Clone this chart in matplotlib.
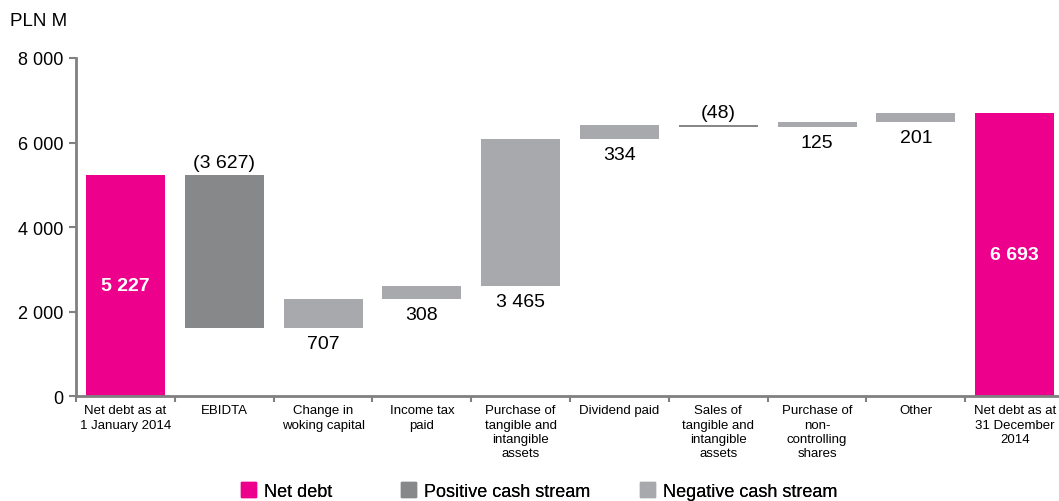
import numpy as np
import matplotlib.pyplot as plt
from matplotlib.patches import Patch

plt.rcParams['font.family'] = ['Liberation Sans', 'DejaVu Sans']

# Net debt bridge, PLN M
categories = ["Net debt as at\n1 January 2014", "EBIDTA", "Change in\nwoking capital",
              "Income tax\npaid", "Purchase of\ntangible and\nintangible\nassets",
              "Dividend paid", "Sales of\ntangible and\nintangible\nassets",
              "Purchase of\nnon-\ncontrolling\nshares", "Other",
              "Net debt as at\n31 December\n2014"]
opening = 5227
closing = 6693
changes = [-3627, 707, 308, 3465, 334, -48, 125, 201]

magenta = '#EC008C'
dark_grey = '#87888A'
light_grey = '#A7A9AC'
axis_grey = '#808080'

def fmt(v):
    s = f"{abs(v):,}".replace(",", " ")
    return f"({s})" if v < 0 else s

fig = plt.figure(figsize=(10.59, 5.02), dpi=100)
ax = fig.add_axes([0.0718, 0.209, 0.933, 0.6735])

x = np.arange(len(categories))
w = 0.8

# opening and closing balances
ax.bar(x[0], opening, width=w, color=magenta)
ax.bar(x[-1], closing, width=w, color=magenta)
ax.text(x[0], opening / 2, fmt(opening), ha='center', va='center',
        color='white', fontsize=14, fontweight='bold')
ax.text(x[-1], closing / 2, fmt(closing), ha='center', va='center',
        color='white', fontsize=14, fontweight='bold')

# floating steps
level = opening
for i, ch in enumerate(changes, start=1):
    new = level + ch
    lo, hi = min(level, new), max(level, new)
    col = dark_grey if ch < 0 else light_grey
    ax.bar(x[i], hi - lo, bottom=lo, width=w, color=col)
    if ch < 0:
        ax.annotate(fmt(ch), (x[i], hi), xytext=(0, 3), textcoords='offset points',
                    ha='center', va='bottom', fontsize=14)
    else:
        ax.annotate(fmt(ch), (x[i], lo), xytext=(0, -5), textcoords='offset points',
                    ha='center', va='top', fontsize=14)
    level = new

ax.set_xlim(-0.5, len(categories) - 0.5)
ax.set_ylim(0, 8000)
ax.set_yticks([0, 2000, 4000, 6000, 8000])
ax.set_yticklabels([fmt(v) for v in [0, 2000, 4000, 6000, 8000]], fontsize=13)

ax.set_xticks(x)
ax.set_xticklabels(categories, fontsize=9.5, va='top', linespacing=1.25)
ax.set_xticks(np.arange(-0.5, len(categories)), minor=True)
ax.tick_params(axis='x', which='major', length=0, pad=6)
ax.tick_params(axis='x', which='minor', length=4, width=1.5, color=axis_grey, direction='out')
ax.tick_params(axis='y', length=5, width=1.5, color=axis_grey, direction='out', pad=4)

for side in ['top', 'right']:
    ax.spines[side].set_visible(False)
for side in ['left', 'bottom']:
    ax.spines[side].set_color(axis_grey)
    ax.spines[side].set_linewidth(2)

fig.text(0.009, 0.957, "PLN M", fontsize=13.5, va='center')

# legend entries placed individually along the bottom
legend_items = [(magenta, 'Net debt', 241), (dark_grey, 'Positive cash stream', 401),
                (light_grey, 'Negative cash stream', 640)]
for col, lab, px in legend_items:
    lg = fig.legend(handles=[Patch(color=col, label=lab)], loc='center left',
                    bbox_to_anchor=(px / 1059, 0.02), frameon=False, fontsize=13,
                    handlelength=0.85, handleheight=0.85, handletextpad=0.4,
                    borderpad=0, borderaxespad=0)
    fig.add_artist(lg)

fig.savefig('out.png', dpi=100)
